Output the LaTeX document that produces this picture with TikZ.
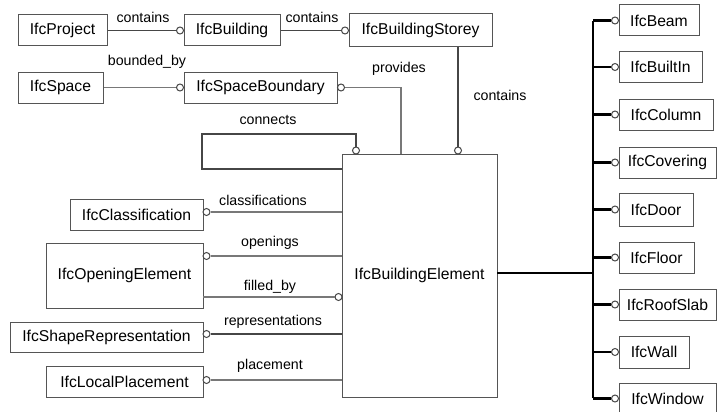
\documentclass[tikz,border=0pt]{standalone}
\usepackage{fontspec}
\setmainfont{Liberation Sans}
\usetikzlibrary{calc}
\definecolor{boxgray}{RGB}{85,85,85}
\definecolor{lngray}{RGB}{120,120,120}
\definecolor{lndark}{RGB}{70,70,70}
\begin{document}
\begin{tikzpicture}[x=1pt,y=-1pt,
  box/.style={draw=boxgray,line width=1pt,fill=white,inner sep=0pt,minimum height=31pt,font=\fontsize{15.7}{18}\selectfont},
  lbl/.style={inner sep=0pt,font=\fontsize{14.2}{16}\selectfont},
  ring/.style={circle,draw=lndark,line width=1pt,fill=white,inner sep=0pt,minimum size=7pt},
  conn/.style={draw=lngray,line width=1.1pt},
  dconn/.style={draw=lndark,line width=1.1pt},
  bus/.style={draw=black,line width=2.4pt},
  bsty/.style={draw=black,line width=2.4pt,line cap=rect}]
\useasboundingbox (0,0) rectangle (717,412);
% top boxes
\node[box,minimum width=89pt] (prj) at (62.5,30.5) {IfcProject};
\node[box,minimum width=96pt] (bld) at (232,30.5) {IfcBuilding};
\node[box,minimum width=143pt,minimum height=33pt] (sty) at (420.5,30.5) {IfcBuildingStorey};
\node[box,minimum width=85pt] (spc) at (60.5,87.5) {IfcSpace};
\node[box,minimum width=153pt] (sbd) at (260.5,87.5) {IfcSpaceBoundary};
% central element
\node[box,minimum width=155pt,minimum height=243pt] (bel) at (419.5,275.5) {IfcBuildingElement};
% left boxes
\node[box,minimum width=133pt] (cls) at (136.5,214.5) {IfcClassification};
\node[box,minimum width=157pt,minimum height=65pt] (opn) at (124.5,275.5) {IfcOpeningElement};
\node[box,minimum width=193pt,minimum height=30pt] (shp) at (106.5,337) {IfcShapeRepresentation};
\node[box,minimum width=157pt] (plc) at (124.5,381.5) {IfcLocalPlacement};
% right boxes
\node[box,minimum width=80pt] (beam) at (659,20.5) {IfcBeam};
\node[box,minimum width=83pt] (bin) at (660.5,67) {IfcBuiltIn};
\node[box,minimum width=94pt] (col) at (666,114.5) {IfcColumn};
\node[box,minimum width=97pt] (cov) at (667.5,162.5) {IfcCovering};
\node[box,minimum width=74pt,minimum height=33pt] (door) at (656,209.5) {IfcDoor};
\node[box,minimum width=75pt] (flr) at (656.5,257.5) {IfcFloor};
\node[box,minimum width=97pt] (roof) at (667.5,304.5) {IfcRoofSlab};
\node[box,minimum width=70pt,minimum height=32pt] (wall) at (654,352) {IfcWall};
\node[box,minimum width=97pt] (win) at (667.5,398.5) {IfcWindow};
% top connectors
\node[ring] (r1) at ($(bld.west)+(-3.5,0)$) {};
\draw[dconn] (prj.east) -- (r1);
\node[lbl] (l1) at (143,17) {contains};
\node[ring] (r2) at ($(sty.west |- bld.west)+(-3.5,0)$) {};
\draw[dconn] (bld.east) -- (r2);
\node[lbl] (l2) at (312,17) {contains};
\node[ring] (r3) at ($(sbd.west)+(-3.5,0)$) {};
\draw[conn] (spc.east) -- (r3);
\node[lbl] (l3) at (147,62) {bounded\_by};
\node[ring] (r4) at ($(sbd.east)+(3.5,0)$) {};
\coordinate (pv) at (401,154);
\draw[conn] (r4) -| (pv);
\node[lbl] (l4) at (399,69) {provides};
\node[ring] (r5) at (458,150.5) {};
\coordinate (st) at (458,47);
\draw[dconn] (st) -- (r5);
\node[lbl] (l5) at (500,95) {contains};
\node[ring] (r6) at (356,150.5) {};
\coordinate (cnA) at (342,169);
\coordinate (cnB) at (202,134);
\draw[dconn] (cnA) -| (cnB) -| (r6);
\node[lbl] (l6) at (268,120) {connects};
% left connectors
\node[ring] (r7) at (206.5,212) {};
\draw[conn] (r7) -- (r7 -| bel.west);
\node[lbl] (l7) at (263,200) {classifications};
\node[ring] (r8) at (206.5,256) {};
\draw[conn] (r8) -- (r8 -| bel.west);
\node[lbl] (l8) at (270,243) {openings};
\node[ring] (r9) at (338.5,297) {};
\coordinate (fb) at (203,297);
\draw[conn] (fb) -- (r9);
\node[lbl] (l9) at (270,287) {filled\_by};
\node[ring] (r10) at (206.5,334) {};
\draw[dconn] (r10) -- (r10 -| bel.west);
\node[lbl] (l10) at (273,322) {representations};
\node[ring] (r11) at (206.5,380) {};
\draw[conn] (r11) -- (r11 -| bel.west);
\node[lbl] (l11) at (270,366) {placement};
% right bus
\coordinate (bt) at (593,21);
\coordinate (bb) at (593,398);
\coordinate (be) at (497,273);
\draw[bus] (be) -- (be -| bt);
\draw[bus] (bt) -- (bb);
\foreach \n in {beam,bin,col,cov,door,flr,roof,wall,win}{
  \node[ring] (c\n) at ($(\n.west)+(-3.5,0)$) {};
  \draw[bus] (c\n -| bt) -- (c\n.west);
}
\end{tikzpicture}
\end{document}
